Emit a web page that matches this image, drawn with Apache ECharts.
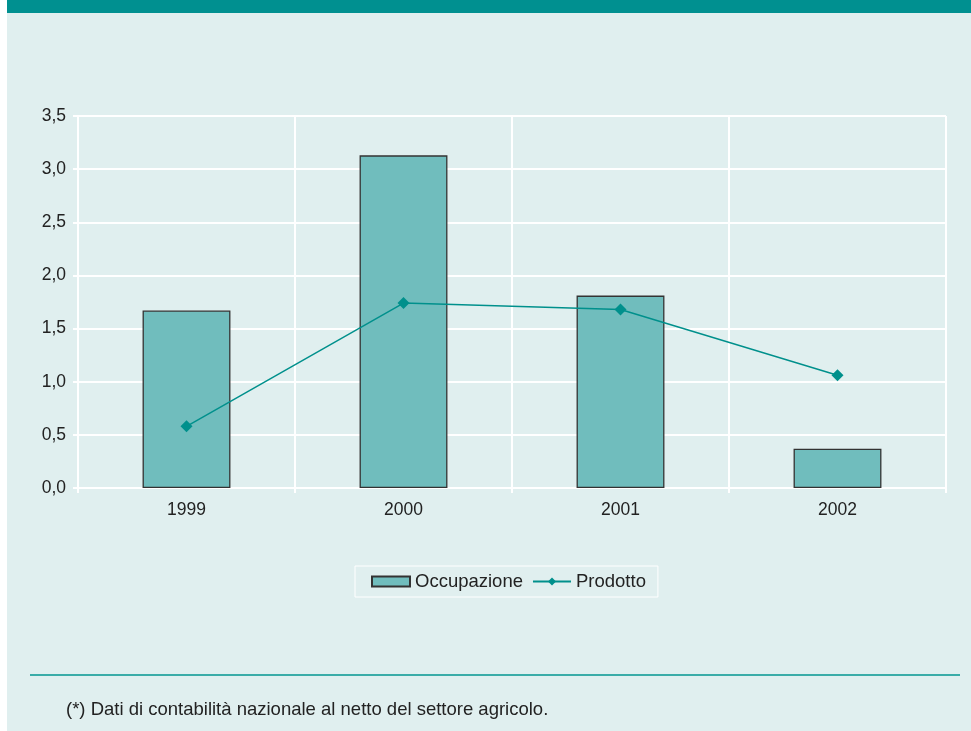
<!DOCTYPE html>
<html><head><meta charset="utf-8">
<script src="https://cdn.jsdelivr.net/npm/echarts@6/dist/echarts.min.js"></script>
<style>html,body{margin:0;padding:0;background:#fff}#c{width:971px;height:731px}</style>
</head><body><div id="c"></div>
<script>
const categories = ['1999', '2000', '2001', '2002'];
const occupazione = [1.67, 3.13, 1.81, 0.37];
const prodotto = [0.58, 1.74, 1.68, 1.06];
const yTicks = [0, 0.5, 1, 1.5, 2, 2.5, 3, 3.5];

const chart = echarts.init(document.getElementById('c'));
const font = '"Liberation Sans", Arial, sans-serif';
chart.setOption({
  backgroundColor: '#ffffff',
  animation: false,
  textStyle: { fontFamily: font },
  graphic: [
    { type: 'rect', shape: { x: 7, y: 0, width: 964, height: 731 }, style: { fill: '#e0efef' }, z: -10 },
    { type: 'rect', shape: { x: 7, y: 0, width: 964, height: 13 }, style: { fill: '#009090' }, z: -9 },
    { type: 'line', shape: { x1: 30, y1: 675, x2: 960, y2: 675 }, style: { stroke: '#3aaca8', lineWidth: 2 } },
    { type: 'text', left: 66, top: 700, style: { text: '(*) Dati di contabilità nazionale al netto del settore agricolo.', font: '18.5px ' + font, fill: '#222' } }
  ],
  grid: { left: 78, right: 25, top: 116, bottom: 243, containLabel: false },
  legend: {
    left: 355, top: 566,
    data: [{ name: 'Occupazione', icon: 'rect' }, 'Prodotto'],
    itemWidth: 38, itemHeight: 10, itemGap: 9,
    borderColor: '#ffffff', borderWidth: 1, padding: [6, 12, 6, 16],
    textStyle: { fontSize: 18.5, color: '#222', fontFamily: font }
  },
  xAxis: {
    type: 'category', data: categories,
    axisLine: { show: true, lineStyle: { color: '#ffffff', width: 2 } },
    axisTick: { show: true, length: 5, lineStyle: { color: '#ffffff', width: 2 } },
    splitLine: { show: true, lineStyle: { color: '#ffffff', width: 2 } },
    axisLabel: { fontSize: 17.5, color: '#222', margin: 13, fontFamily: font }
  },
  yAxis: {
    type: 'value', min: 0, max: 3.5, interval: 0.5,
    axisLine: { show: true, lineStyle: { color: '#ffffff', width: 2 } },
    axisTick: { show: true, length: 5, lineStyle: { color: '#ffffff', width: 2 } },
    splitLine: { show: true, lineStyle: { color: '#ffffff', width: 2 } },
    axisLabel: { fontSize: 17.5, color: '#222', margin: 12, fontFamily: font,
      formatter: v => v.toFixed(1).replace('.', ',') }
  },
  series: [
    {
      name: 'Occupazione', type: 'bar', data: occupazione, barWidth: '40.5%',
      itemStyle: { color: '#70bdbd', borderColor: '#333333', borderWidth: 1.3 }
    },
    {
      name: 'Prodotto', type: 'line', data: prodotto,
      symbol: 'diamond', symbolSize: 12,
      lineStyle: { color: '#00908c', width: 1.5 },
      itemStyle: { color: '#00908c' }
    }
  ]
});
</script></body></html>
